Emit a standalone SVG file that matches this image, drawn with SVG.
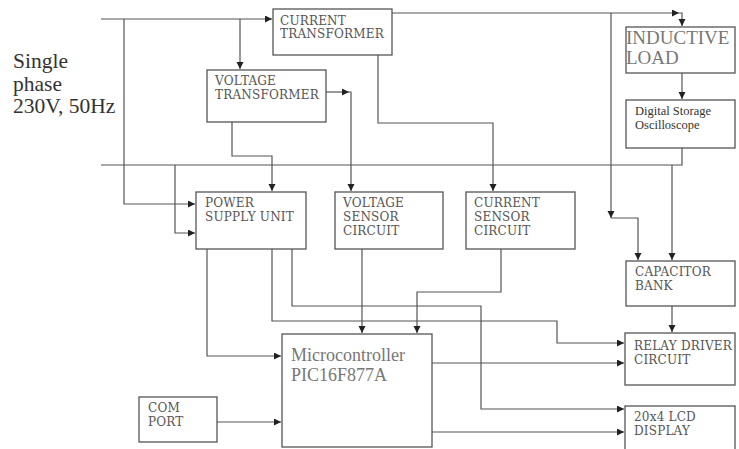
<svg xmlns="http://www.w3.org/2000/svg" width="739" height="449" viewBox="0 0 739 449">
<defs>
<marker id="ah" markerUnits="userSpaceOnUse" markerWidth="8" markerHeight="8" refX="7" refY="3.5" orient="auto">
<path d="M0,0 L7,3.5 L0,7 z" fill="#222"/>
</marker>
<style>
.box{fill:#fff;stroke:#555;stroke-width:1.3}
.lbl{font-family:"DejaVu Serif",serif;font-size:12px;fill:#555;letter-spacing:0.2px}
.big{font-family:"Liberation Serif",serif;fill:#777}
.cn path{fill:none;stroke:#555;stroke-width:1.2}
.ar{marker-end:url(#ah)}
.sp{font-family:"Liberation Serif",serif;font-size:21.5px;fill:#333}
</style>
</defs>
<rect width="739" height="449" fill="#fff"/>
<text class="sp" x="13" y="68">Single</text>
<text class="sp" x="13" y="91">phase</text>
<text class="sp" x="13" y="113">230V, 50Hz</text>
<g class="cn" id="connectors">
<path class="ar" d="M101,19 H272"/>
<path class="ar" d="M124,19 V204 H195"/>
<path class="ar" d="M240,19 V69"/>
<path class="ar" d="M392,13 H679"/>
<path class="ar" d="M679,13 H682 V26"/>
<path class="ar" d="M611,13 V218"/>
<path class="ar" d="M611,218 H638 V260"/>
<path d="M101,165 H682 V148"/>
<path class="ar" d="M672,165 V260"/>
<path class="ar" d="M682,73 V99"/>
<path class="ar" d="M175,165 V233 H195"/>
<path class="ar" d="M232,122 V156 H272 V191"/>
<path class="ar" d="M326,92 H349"/>
<path class="ar" d="M349,92 H351 V191"/>
<path class="ar" d="M378,55 V123 H493 V191"/>
<path class="ar" d="M207,249 V356 H281"/>
<path class="ar" d="M272,249 V321 H557 V343 H624"/>
<path class="ar" d="M292,249 V306 H481 V409 H624"/>
<path class="ar" d="M362,249 V333"/>
<path class="ar" d="M501,249 V292 H417 V333"/>
<path class="ar" d="M672,306 V332"/>
<path class="ar" d="M432,363 H624"/>
<path class="ar" d="M432,432 H624"/>
<path class="ar" d="M217,422 H281"/>
</g>
<g id="current-transformer">
<rect class="box" x="273" y="9" width="119" height="46"/>
<text class="lbl" x="280" y="25">CURRENT</text>
<text class="lbl" x="280" y="38">TRANSFORMER</text>
</g>
<g id="voltage-transformer">
<rect class="box" x="207" y="70" width="119" height="52"/>
<text class="lbl" x="215" y="85">VOLTAGE</text>
<text class="lbl" x="215" y="99">TRANSFORMER</text>
</g>
<g id="inductive-load">
<rect class="box" x="626" y="27" width="109" height="46"/>
<text class="big" x="626" y="44" font-size="19">INDUCTIVE</text>
<text class="big" x="626" y="64" font-size="19">LOAD</text>
</g>
<g id="dso">
<rect class="box" x="626" y="100" width="109" height="48"/>
<text x="635" y="115" font-family="Liberation Serif, serif" font-size="12.5" fill="#333">Digital Storage</text>
<text x="635" y="129" font-family="Liberation Serif, serif" font-size="12.5" fill="#333">Oscilloscope</text>
</g>
<g id="power-supply">
<rect class="box" x="196" y="192" width="110" height="57"/>
<text class="lbl" x="205" y="207">POWER</text>
<text class="lbl" x="205" y="221">SUPPLY UNIT</text>
</g>
<g id="voltage-sensor">
<rect class="box" x="335" y="192" width="108" height="57"/>
<text class="lbl" x="343" y="207">VOLTAGE</text>
<text class="lbl" x="343" y="221">SENSOR</text>
<text class="lbl" x="343" y="235">CIRCUIT</text>
</g>
<g id="current-sensor">
<rect class="box" x="466" y="192" width="109" height="57"/>
<text class="lbl" x="474" y="207">CURRENT</text>
<text class="lbl" x="474" y="221">SENSOR</text>
<text class="lbl" x="474" y="235">CIRCUIT</text>
</g>
<g id="capacitor-bank">
<rect class="box" x="626" y="261" width="109" height="45"/>
<text class="lbl" x="635" y="276">CAPACITOR</text>
<text class="lbl" x="635" y="290">BANK</text>
</g>
<g id="relay-driver">
<rect class="box" x="625" y="333" width="110" height="52"/>
<text class="lbl" x="634" y="350">RELAY DRIVER</text>
<text class="lbl" x="634" y="364">CIRCUIT</text>
</g>
<g id="lcd">
<rect class="box" x="625" y="406" width="110" height="50"/>
<text class="lbl" x="634" y="421">20x4 LCD</text>
<text class="lbl" x="634" y="435">DISPLAY</text>
</g>
<g id="microcontroller">
<rect class="box" x="282" y="334" width="150" height="113"/>
<text class="big" x="291" y="361" font-size="18">Microcontroller</text>
<text class="big" x="291" y="381" font-size="18">PIC16F877A</text>
</g>
<g id="com-port">
<rect class="box" x="139" y="397" width="78" height="45"/>
<text class="lbl" x="148" y="412">COM</text>
<text class="lbl" x="148" y="426">PORT</text>
</g>
</svg>
